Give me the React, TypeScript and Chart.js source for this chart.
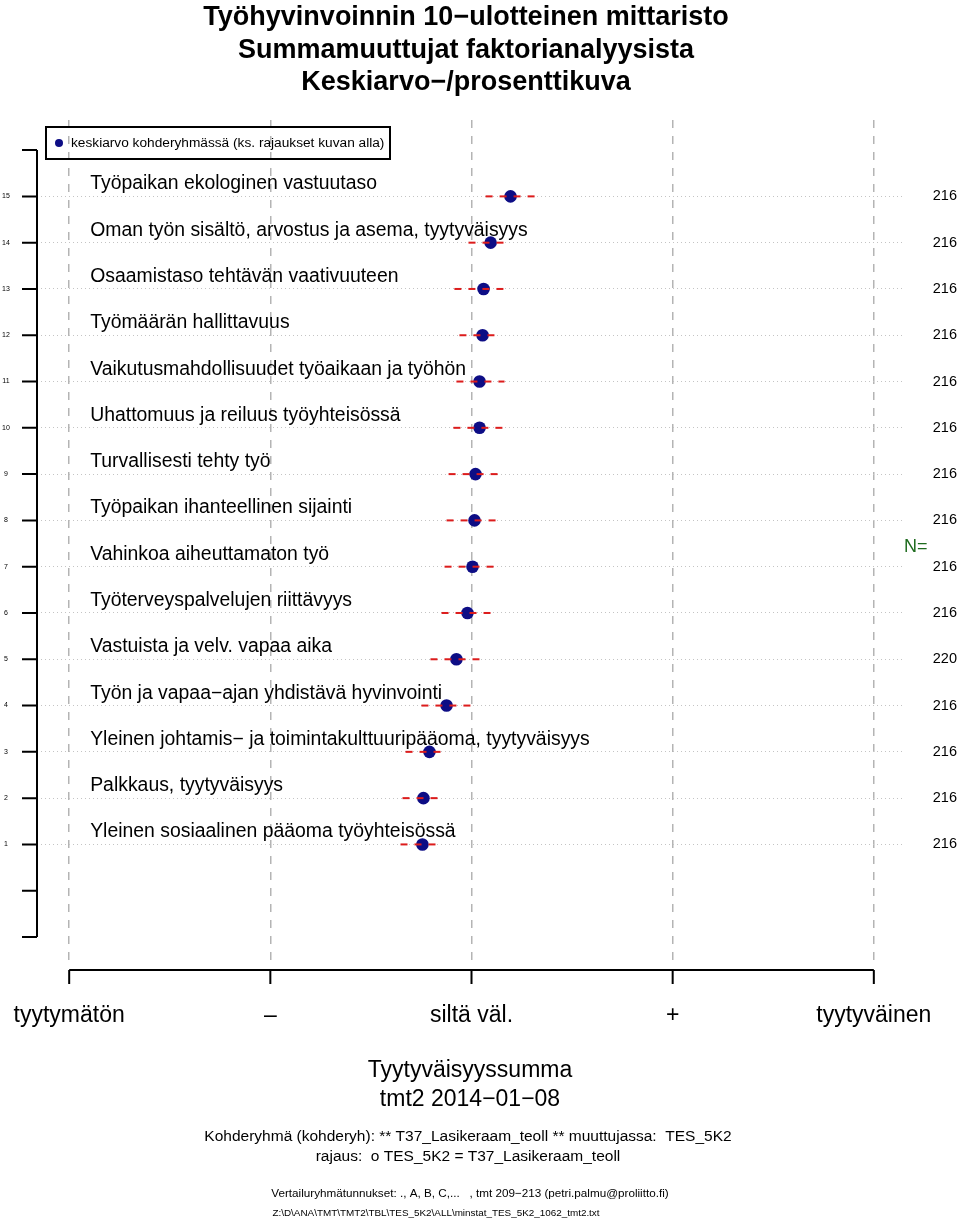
import React, { useEffect, useRef } from "react";
import { Chart, registerables } from "chart.js";

Chart.register(...registerables);

// ---- data (bottom row = position 1, top row = position 15) ----
const itemLabels = [
  "Yleinen sosiaalinen pääoma työyhteisössä",
  "Palkkaus, tyytyväisyys",
  "Yleinen johtamis− ja toimintakulttuuripääoma, tyytyväisyys",
  "Työn ja vapaa−ajan yhdistävä hyvinvointi",
  "Vastuista ja velv. vapaa aika",
  "Työterveyspalvelujen riittävyys",
  "Vahinkoa aiheuttamaton työ",
  "Työpaikan ihanteellinen sijainti",
  "Turvallisesti tehty työ",
  "Uhattomuus ja reiluus työyhteisössä",
  "Vaikutusmahdollisuudet työaikaan ja työhön",
  "Työmäärän hallittavuus",
  "Osaamistaso tehtävän vaativuuteen",
  "Oman työn sisältö, arvostus ja asema, tyytyväisyys",
  "Työpaikan ekologinen vastuutaso",
];
const itemPositions = [1, 2, 3, 4, 5, 6, 7, 8, 9, 10, 11, 12, 13, 14, 15];
const means = [2.756, 2.761, 2.791, 2.876, 2.925, 2.98, 3.005, 3.015, 3.02, 3.04, 3.04, 3.055, 3.06, 3.095, 3.194];
const lowerBounds = [2.647, 2.657, 2.672, 2.751, 2.796, 2.851, 2.866, 2.876, 2.886, 2.91, 2.925, 2.94, 2.915, 2.985, 3.07];
const upperBounds = [2.846, 2.856, 2.871, 2.995, 3.05, 3.109, 3.129, 3.134, 3.144, 3.164, 3.164, 3.139, 3.179, 3.184, 3.318];
const nValues = [216, 216, 216, 216, 220, 216, 216, 216, 216, 216, 216, 216, 216, 216, 216];

const scaleTickValues = [1, 2, 3, 4, 5];
const scaleTickLabels = ["tyytymätön", "–", "siltä väl.", "+", "tyytyväinen"];
const rowAxisTicks = [-1, 0, 1, 2, 3, 4, 5, 6, 7, 8, 9, 10, 11, 12, 13, 14, 15, 16];

const titleLines = [
  "Työhyvinvoinnin 10−ulotteinen mittaristo",
  "Summamuuttujat faktorianalyysista",
  "Keskiarvo−/prosenttikuva",
];
const legendText = "keskiarvo kohderyhmässä (ks. rajaukset kuvan alla)";
const xAxisTitle = "Tyytyväisyyssumma";
const dateLine = "tmt2 2014−01−08";
const groupLine = "Kohderyhmä (kohderyh): ** T37_Lasikeraam_teoll ** muuttujassa:  TES_5K2";
const filterLine = "rajaus:  o TES_5K2 = T37_Lasikeraam_teoll";
const compareLine = "Vertailuryhmätunnukset: ., A, B, C,...   , tmt 209−213 (petri.palmu@proliitto.fi)";
const fileLine = "Z:\\D\\ANA\\TMT\\TMT2\\TBL\\TES_5K2\\ALL\\minstat_TES_5K2_1062_tmt2.txt";

const FONT = '"Liberation Sans", Arial, Helvetica, sans-serif';
const DOT = "#0d0d85";
const RED = "#dc1c1c";

const decorPlugin = {
  id: "decor",
  beforeDatasetsDraw(chart: any) {
    const ctx = chart.ctx;
    const xs = chart.scales.x;
    const ys = chart.scales.y;
    ctx.save();
    ctx.fillStyle = "#000";
    ctx.font = `19.4px ${FONT}`;
    ctx.textAlign = "left";
    ctx.textBaseline = "alphabetic";
    itemLabels.forEach((lab, i) => {
      ctx.fillText(lab, xs.getPixelForValue(1) + 21, ys.getPixelForValue(itemPositions[i]) - 7);
    });
    ctx.restore();
  },
  afterDraw(chart: any) {
    const ctx = chart.ctx;
    const xs = chart.scales.x;
    const ys = chart.scales.y;
    const area = chart.chartArea;
    const cx = 468;
    ctx.save();
    ctx.fillStyle = "#000";
    ctx.strokeStyle = "#000";

    // titles
    ctx.textAlign = "center";
    ctx.textBaseline = "alphabetic";
    ctx.font = `bold 27px ${FONT}`;
    titleLines.forEach((t, i) => ctx.fillText(t, 466, 25 + i * 32.5));

    // legend box
    ctx.lineWidth = 2;
    ctx.strokeRect(46, 127, 344, 32);
    ctx.beginPath();
    ctx.fillStyle = DOT;
    ctx.arc(59, 143, 4, 0, Math.PI * 2);
    ctx.fill();
    ctx.fillStyle = "#000";
    ctx.font = `13.7px ${FONT}`;
    ctx.textAlign = "left";
    ctx.textBaseline = "middle";
    ctx.fillText(legendText, 71, 143);

    // left axis
    const ax = area.left;
    ctx.lineWidth = 2;
    ctx.beginPath();
    ctx.moveTo(ax, ys.getPixelForValue(16));
    ctx.lineTo(ax, ys.getPixelForValue(-1));
    rowAxisTicks.forEach((v) => {
      const py = ys.getPixelForValue(v);
      ctx.moveTo(ax, py);
      ctx.lineTo(ax - 15, py);
    });
    ctx.stroke();
    ctx.font = `7px ${FONT}`;
    ctx.textAlign = "center";
    ctx.textBaseline = "middle";
    itemPositions.forEach((v) => ctx.fillText(String(v), 6, ys.getPixelForValue(v)));

    // N values
    ctx.font = `14.5px ${FONT}`;
    ctx.textAlign = "right";
    nValues.forEach((n, i) => ctx.fillText(String(n), 957, ys.getPixelForValue(itemPositions[i])));
    ctx.fillStyle = "#1e6b1e";
    ctx.font = `18px ${FONT}`;
    ctx.textAlign = "left";
    ctx.fillText("N=", 904, ys.getPixelForValue(7.5) + 3);
    ctx.fillStyle = "#000";

    // bottom axis
    const by = 970;
    ctx.lineWidth = 2;
    ctx.beginPath();
    ctx.moveTo(xs.getPixelForValue(scaleTickValues[0]), by);
    ctx.lineTo(xs.getPixelForValue(scaleTickValues[scaleTickValues.length - 1]), by);
    scaleTickValues.forEach((v) => {
      const px = xs.getPixelForValue(v);
      ctx.moveTo(px, by);
      ctx.lineTo(px, by + 14);
    });
    ctx.stroke();
    ctx.font = `23px ${FONT}`;
    ctx.textAlign = "center";
    ctx.textBaseline = "alphabetic";
    scaleTickValues.forEach((v, i) => ctx.fillText(scaleTickLabels[i], xs.getPixelForValue(v), 1022));

    // bottom texts
    ctx.font = `23px ${FONT}`;
    ctx.fillText(xAxisTitle, cx + 2, 1077);
    ctx.fillText(dateLine, cx + 2, 1106);
    ctx.font = `15.5px ${FONT}`;
    ctx.fillText(groupLine, cx, 1141);
    ctx.fillText(filterLine, cx, 1161);
    ctx.font = `11.7px ${FONT}`;
    ctx.fillText(compareLine, 470, 1197);
    ctx.font = `9.9px ${FONT}`;
    ctx.fillText(fileLine, 436, 1216);
    ctx.restore();
  },
};

export default function App() {
  const canvasRef = useRef<HTMLCanvasElement | null>(null);

  useEffect(() => {
    if (!canvasRef.current) return;
    const errorSets = itemPositions.map((p, i) => ({
      label: "ci" + p,
      data: [
        { x: lowerBounds[i], y: p },
        { x: upperBounds[i], y: p },
      ],
      showLine: true,
      borderColor: RED,
      borderWidth: 2,
      borderDash: [7, 7],
      pointRadius: 0,
      order: 0,
    }));
    const chart = new Chart(canvasRef.current, {
      type: "scatter",
      data: {
        datasets: [
          ...errorSets,
          {
            label: "keskiarvo",
            data: itemPositions.map((p, i) => ({ x: means[i], y: p })),
            pointRadius: 6.3,
            pointBackgroundColor: DOT,
            pointBorderWidth: 0,
            backgroundColor: DOT,
            borderColor: DOT,
            order: 1,
          },
        ],
      },
      options: {
        responsive: false,
        devicePixelRatio: 1,
        animation: false,
        layout: { padding: { left: 37, right: 56, top: 120, bottom: 257 } },
        plugins: { legend: { display: false }, tooltip: { enabled: false }, title: { display: false } },
        scales: {
          x: {
            type: "linear",
            min: 0.84,
            max: 5.15,
            afterBuildTicks: (s: any) => {
              s.ticks = scaleTickValues.map((v) => ({ value: v }));
            },
            ticks: { display: false },
            grid: { color: "#b4b4b4", lineWidth: 1.5, drawTicks: false },
            border: { display: false, dash: [8, 8] },
          },
          y: {
            type: "linear",
            min: -1.54,
            max: 16.65,
            afterBuildTicks: (s: any) => {
              s.ticks = itemPositions.map((v) => ({ value: v }));
            },
            ticks: { display: false },
            grid: { color: "#c4c4c4", lineWidth: 1, drawTicks: false },
            border: { display: false, dash: [1, 3] },
          },
        },
      },
      plugins: [decorPlugin],
    } as any);
    return () => chart.destroy();
  }, []);

  return (
    <div style={{ position: "absolute", left: 0, top: 0, width: 960, height: 1219, background: "#fff" }}>
      <canvas ref={canvasRef} width={960} height={1219} style={{ display: "block", width: 960, height: 1219 }} />
    </div>
  );
}
